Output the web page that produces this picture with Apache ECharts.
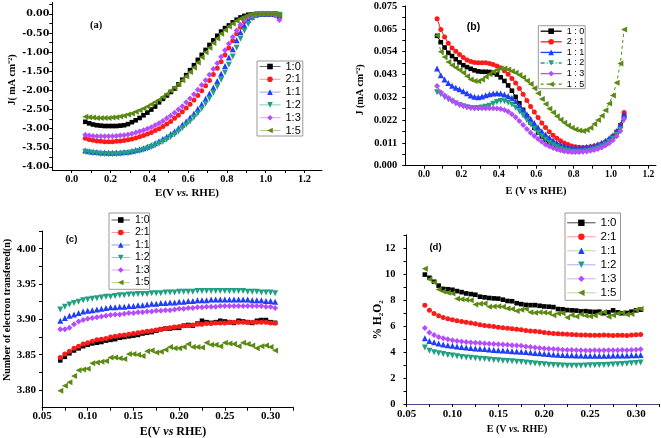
<!DOCTYPE html>
<html><head><meta charset="utf-8">
<script src="https://cdn.jsdelivr.net/npm/echarts@6/dist/echarts.min.js"></script>
<style>html,body{margin:0;padding:0;background:#fff}#c{width:661px;height:438px}</style>
</head><body><div id="c"></div>
<script>
// ---------------- DATA ----------------
const ratioLabels = ['1:0','2:1','1:1','1:2','1:3','1:5'];
const ratioLabelsB = ['1 : 0','2 : 1','1 : 1','1 : 2','1 : 3','1 : 5'];

// potential axis for panels (a) and (b), V vs RHE
const E_lsv = [0.07,0.09,0.11,0.13,0.15,0.17,0.19,0.21,0.23,0.25,0.27,0.29,0.31,0.33,0.35,0.37,0.39,0.41,0.43,0.45,0.47,0.49,0.51,0.53,0.55,0.57,0.59,0.61,0.63,0.65,0.67,0.69,0.71,0.73,0.75,0.77,0.79,0.81,0.83,0.85,0.87,0.89,0.91,0.93,0.95,0.97,0.99,1.01,1.03,1.05,1.07];
// potential axis for panels (c) and (d)
const E_low = [0.070,0.075,0.080,0.085,0.090,0.095,0.100,0.105,0.110,0.115,0.120,0.125,0.130,0.135,0.140,0.145,0.150,0.155,0.160,0.165,0.170,0.175,0.180,0.185,0.190,0.195,0.200,0.205,0.210,0.215,0.220,0.225,0.230,0.235,0.240,0.245,0.250,0.255,0.260,0.265,0.270,0.275,0.280,0.285,0.290,0.295,0.300,0.305];

// (a) disk current density, mA cm^-2
const diskJ_1_0 = [-2.82,-2.86,-2.89,-2.91,-2.92,-2.93,-2.93,-2.93,-2.93,-2.92,-2.91,-2.88,-2.83,-2.78,-2.72,-2.65,-2.58,-2.50,-2.42,-2.31,-2.22,-2.13,-2.04,-1.95,-1.84,-1.72,-1.60,-1.47,-1.34,-1.20,-1.07,-0.94,-0.81,-0.69,-0.57,-0.46,-0.37,-0.30,-0.22,-0.15,-0.09,-0.05,-0.02,-0.01,0.00,0.00,0.00,0.00,0.00,-0.01,-0.05];
const diskJ_2_1 = [-3.25,-3.28,-3.30,-3.32,-3.33,-3.34,-3.34,-3.34,-3.33,-3.32,-3.31,-3.29,-3.27,-3.24,-3.21,-3.18,-3.14,-3.10,-3.05,-3.00,-2.94,-2.88,-2.81,-2.73,-2.65,-2.56,-2.46,-2.36,-2.25,-2.13,-2.01,-1.88,-1.74,-1.58,-1.42,-1.25,-1.07,-0.89,-0.70,-0.52,-0.35,-0.20,-0.10,-0.04,-0.01,0.00,0.00,0.00,0.00,-0.02,-0.08];
const diskJ_1_1 = [-3.57,-3.59,-3.60,-3.61,-3.62,-3.62,-3.63,-3.63,-3.62,-3.62,-3.61,-3.60,-3.58,-3.56,-3.54,-3.51,-3.47,-3.43,-3.38,-3.33,-3.27,-3.21,-3.14,-3.07,-2.99,-2.90,-2.81,-2.71,-2.60,-2.48,-2.36,-2.22,-2.08,-1.92,-1.75,-1.56,-1.36,-1.14,-0.92,-0.69,-0.48,-0.30,-0.16,-0.07,-0.02,0.00,0.00,0.00,0.00,-0.01,-0.04];
const diskJ_1_2 = [-3.60,-3.62,-3.64,-3.65,-3.66,-3.66,-3.67,-3.67,-3.67,-3.66,-3.65,-3.64,-3.62,-3.60,-3.58,-3.55,-3.52,-3.48,-3.44,-3.39,-3.34,-3.28,-3.22,-3.15,-3.07,-2.99,-2.90,-2.81,-2.71,-2.60,-2.48,-2.35,-2.21,-2.06,-1.90,-1.72,-1.53,-1.33,-1.11,-0.88,-0.65,-0.44,-0.26,-0.12,-0.04,-0.01,0.00,0.00,0.00,0.00,-0.02];
const diskJ_1_3 = [-3.16,-3.18,-3.19,-3.20,-3.20,-3.20,-3.20,-3.20,-3.19,-3.18,-3.17,-3.15,-3.13,-3.10,-3.07,-3.04,-3.00,-2.96,-2.91,-2.86,-2.80,-2.73,-2.66,-2.58,-2.50,-2.41,-2.31,-2.21,-2.10,-1.98,-1.86,-1.73,-1.59,-1.44,-1.29,-1.12,-0.95,-0.78,-0.60,-0.43,-0.28,-0.16,-0.08,-0.03,0.00,0.01,0.01,0.01,0.00,-0.04,-0.16];
const diskJ_1_5 = [-2.69,-2.70,-2.71,-2.72,-2.72,-2.72,-2.72,-2.71,-2.70,-2.68,-2.66,-2.63,-2.60,-2.56,-2.52,-2.47,-2.42,-2.36,-2.30,-2.24,-2.17,-2.09,-2.01,-1.92,-1.83,-1.73,-1.63,-1.52,-1.40,-1.27,-1.13,-1.00,-0.88,-0.76,-0.64,-0.52,-0.42,-0.33,-0.25,-0.18,-0.12,-0.07,-0.03,-0.01,0.00,0.00,0.00,0.00,0.00,-0.01,-0.03];

// (b) ring current density, mA cm^-2
const ringJ_1_0 = [0.0610,0.0580,0.0555,0.0530,0.0515,0.0500,0.0485,0.0472,0.0463,0.0455,0.0448,0.0443,0.0441,0.0441,0.0440,0.0436,0.0428,0.0415,0.0398,0.0377,0.0352,0.0323,0.0293,0.0262,0.0232,0.0203,0.0178,0.0156,0.0137,0.0120,0.0106,0.0095,0.0085,0.0078,0.0073,0.0070,0.0069,0.0069,0.0070,0.0072,0.0075,0.0079,0.0084,0.0090,0.0098,0.0108,0.0120,0.0136,0.0158,0.0190,0.0235];
const ringJ_2_1 = [0.0690,0.0640,0.0605,0.0575,0.0553,0.0537,0.0522,0.0508,0.0496,0.0489,0.0485,0.0483,0.0483,0.0483,0.0480,0.0475,0.0468,0.0460,0.0446,0.0430,0.0410,0.0388,0.0363,0.0335,0.0306,0.0278,0.0252,0.0226,0.0201,0.0179,0.0160,0.0143,0.0129,0.0117,0.0107,0.0099,0.0093,0.0089,0.0087,0.0086,0.0087,0.0089,0.0092,0.0097,0.0103,0.0111,0.0122,0.0137,0.0158,0.0190,0.0250];
const ringJ_1_1 = [0.0457,0.0425,0.0405,0.0388,0.0375,0.0366,0.0359,0.0350,0.0340,0.0330,0.0324,0.0322,0.0325,0.0331,0.0336,0.0339,0.0340,0.0339,0.0334,0.0327,0.0318,0.0303,0.0283,0.0263,0.0242,0.0221,0.0200,0.0180,0.0162,0.0146,0.0132,0.0119,0.0108,0.0100,0.0094,0.0089,0.0086,0.0085,0.0085,0.0086,0.0088,0.0091,0.0095,0.0101,0.0108,0.0117,0.0129,0.0143,0.0163,0.0192,0.0240];
const ringJ_1_2 = [0.0345,0.0335,0.0322,0.0311,0.0301,0.0292,0.0285,0.0279,0.0274,0.0271,0.0270,0.0271,0.0273,0.0277,0.0282,0.0291,0.0299,0.0304,0.0303,0.0297,0.0287,0.0272,0.0255,0.0236,0.0214,0.0193,0.0173,0.0155,0.0138,0.0122,0.0108,0.0096,0.0087,0.0079,0.0073,0.0069,0.0066,0.0065,0.0065,0.0066,0.0068,0.0071,0.0076,0.0082,0.0090,0.0100,0.0112,0.0127,0.0145,0.0170,0.0215];
const ringJ_1_3 = [0.0374,0.0345,0.0330,0.0318,0.0306,0.0296,0.0288,0.0281,0.0276,0.0272,0.0270,0.0270,0.0270,0.0270,0.0270,0.0270,0.0269,0.0266,0.0262,0.0254,0.0242,0.0227,0.0210,0.0191,0.0172,0.0155,0.0139,0.0125,0.0112,0.0100,0.0091,0.0083,0.0077,0.0072,0.0068,0.0066,0.0064,0.0064,0.0064,0.0065,0.0067,0.0070,0.0074,0.0079,0.0086,0.0095,0.0106,0.0120,0.0138,0.0163,0.0220];
const ringJ_1_5 = [0.0612,0.0535,0.0510,0.0487,0.0472,0.0460,0.0449,0.0437,0.0420,0.0405,0.0398,0.0397,0.0405,0.0418,0.0430,0.0441,0.0450,0.0456,0.0456,0.0452,0.0444,0.0436,0.0426,0.0414,0.0399,0.0384,0.0364,0.0340,0.0313,0.0290,0.0268,0.0250,0.0232,0.0216,0.0202,0.0189,0.0178,0.0170,0.0165,0.0163,0.0168,0.0178,0.0196,0.0215,0.0235,0.0260,0.0292,0.0330,0.0390,0.0480,0.0640];

// (c) number of electrons transferred
const nElec_1_0 = [3.842,3.847,3.852,3.856,3.859,3.862,3.864,3.866,3.867,3.868,3.870,3.871,3.872,3.874,3.875,3.876,3.877,3.878,3.880,3.881,3.882,3.884,3.886,3.887,3.887,3.888,3.888,3.891,3.892,3.891,3.894,3.898,3.896,3.895,3.896,3.898,3.897,3.896,3.895,3.898,3.897,3.896,3.895,3.898,3.899,3.899,3.896,3.895];
const nElec_2_1 = [3.846,3.851,3.855,3.859,3.862,3.865,3.867,3.869,3.871,3.872,3.873,3.875,3.876,3.877,3.878,3.879,3.880,3.881,3.882,3.883,3.884,3.885,3.886,3.887,3.888,3.889,3.890,3.891,3.891,3.892,3.893,3.893,3.894,3.894,3.895,3.895,3.895,3.896,3.896,3.896,3.896,3.896,3.896,3.896,3.896,3.896,3.895,3.895];
const nElec_1_1 = [3.898,3.902,3.905,3.907,3.909,3.911,3.912,3.913,3.914,3.915,3.916,3.917,3.917,3.918,3.918,3.919,3.919,3.920,3.920,3.921,3.922,3.922,3.923,3.923,3.924,3.924,3.925,3.925,3.926,3.926,3.927,3.927,3.927,3.928,3.928,3.928,3.928,3.928,3.928,3.928,3.928,3.928,3.927,3.927,3.927,3.926,3.926,3.925];
const nElec_1_2 = [3.914,3.918,3.921,3.923,3.925,3.927,3.928,3.929,3.930,3.931,3.932,3.932,3.933,3.934,3.934,3.935,3.935,3.936,3.936,3.936,3.937,3.937,3.937,3.938,3.938,3.938,3.939,3.939,3.939,3.939,3.940,3.940,3.940,3.940,3.940,3.940,3.940,3.940,3.940,3.940,3.940,3.939,3.939,3.939,3.938,3.938,3.938,3.937];
const nElec_1_3 = [3.886,3.886,3.888,3.893,3.897,3.899,3.901,3.902,3.903,3.904,3.905,3.906,3.907,3.907,3.908,3.909,3.909,3.910,3.910,3.911,3.911,3.912,3.912,3.913,3.913,3.914,3.915,3.915,3.916,3.916,3.917,3.917,3.918,3.918,3.918,3.919,3.919,3.919,3.919,3.919,3.919,3.919,3.919,3.919,3.919,3.918,3.918,3.916];
const nElec_1_5 = [3.799,3.806,3.811,3.820,3.828,3.829,3.830,3.838,3.839,3.840,3.841,3.846,3.846,3.845,3.844,3.851,3.851,3.850,3.848,3.855,3.856,3.853,3.854,3.857,3.861,3.859,3.859,3.861,3.865,3.861,3.861,3.860,3.867,3.864,3.864,3.862,3.867,3.866,3.865,3.862,3.867,3.865,3.863,3.859,3.862,3.863,3.861,3.856];

// (d) % H2O2
const h2o2_1_0 = [9.95,9.70,9.40,9.10,8.85,8.82,8.78,8.68,8.60,8.50,8.45,8.40,8.25,8.20,8.15,8.12,8.10,8.02,7.92,7.90,7.75,7.68,7.62,7.60,7.60,7.55,7.50,7.48,7.45,7.30,7.28,7.22,7.20,7.18,7.12,7.14,7.10,7.08,7.10,6.98,7.05,7.20,7.05,6.98,7.00,7.10,7.20,7.25];
const h2o2_2_1 = [7.60,7.20,6.95,6.78,6.65,6.55,6.48,6.40,6.34,6.28,6.22,6.16,6.10,6.04,6.00,5.96,5.90,5.86,5.82,5.78,5.75,5.70,5.66,5.62,5.60,5.55,5.50,5.46,5.42,5.40,5.38,5.36,5.34,5.32,5.30,5.30,5.28,5.28,5.28,5.30,5.28,5.27,5.28,5.28,5.27,5.30,5.33,5.35];
const h2o2_1_1 = [5.05,4.85,4.75,4.66,4.58,4.52,4.48,4.43,4.38,4.34,4.31,4.27,4.24,4.22,4.19,4.16,4.14,4.12,4.09,4.06,4.04,4.02,3.99,3.96,3.93,3.90,3.87,3.84,3.81,3.79,3.77,3.75,3.74,3.73,3.72,3.71,3.71,3.71,3.71,3.71,3.71,3.72,3.72,3.72,3.73,3.74,3.75,3.76];
const h2o2_1_2 = [4.35,4.10,3.98,3.90,3.84,3.77,3.72,3.67,3.62,3.58,3.55,3.51,3.48,3.45,3.42,3.39,3.36,3.33,3.30,3.28,3.25,3.22,3.20,3.16,3.12,3.08,3.05,3.02,3.00,2.98,2.96,2.95,2.94,2.94,2.95,2.96,2.97,2.98,2.99,3.00,3.02,3.04,3.06,3.08,3.10,3.13,3.16,3.20];
const h2o2_1_3 = [5.85,5.50,5.30,5.15,5.05,4.97,4.90,4.84,4.80,4.76,4.73,4.70,4.68,4.66,4.64,4.61,4.59,4.57,4.55,4.52,4.49,4.47,4.43,4.38,4.34,4.30,4.27,4.24,4.22,4.20,4.18,4.16,4.15,4.14,4.13,4.12,4.12,4.13,4.12,4.13,4.14,4.13,4.14,4.15,4.14,4.16,4.18,4.20];
const h2o2_1_5 = [10.40,9.60,9.35,8.80,8.65,8.55,8.50,8.10,8.05,8.02,7.98,7.65,7.70,7.72,7.48,7.50,7.52,7.47,7.35,7.30,7.15,7.25,7.30,7.05,7.02,7.05,7.04,7.00,6.82,6.95,6.98,6.65,6.85,6.72,6.90,6.78,6.75,6.80,6.95,7.08,6.70,6.82,6.95,7.02,6.88,6.92,7.25,7.30];

// tick labels
const tickA_x = [0,0.2,0.4,0.6,0.8,1.0,1.2];
const tickA_y = [-4,-3.5,-3,-2.5,-2,-1.5,-1,-0.5,0];
const tickB_x = [0,0.2,0.4,0.6,0.8,1.0,1.2];
const tickB_yLabels = ['0.000','0.011','0.022','0.032','0.043','0.054','0.065','0.075'];
const tickC_x = [0.05,0.10,0.15,0.20,0.25,0.30];
const tickC_y = [3.80,3.85,3.90,3.95,4.00];
const tickD_x = [0.05,0.10,0.15,0.20,0.25,0.30];
const tickD_y = [0,2,4,6,8,10,12];

// ---------------- STYLE ----------------
const COLORS = ['#000000','#ff1a1a','#1f3dff','#22a083','#b54dff','#5a8a12'];
const SYMBOLS = ['rect','circle','triangle','triangle','diamond','triangle'];
const ROTATE = [0,0,0,180,0,90];
const SIZE = [4.6,5,6,6,6,6];

function withMinor(majors, extra) {
  const out = majors.slice();
  for (let i = 0; i < majors.length - 1; i++) out.push((majors[i] + majors[i+1]) / 2);
  return out.concat(extra || []);
}

function axis(gridIndex, min, max, labelVals, tickVals, fmt, lab, lineColor) {
  return {
    type: 'value', gridIndex, min, max,
    axisLine: {show: true, onZero: false, lineStyle: {color: lineColor || '#000', width: 1}},
    axisTick: {show: true, inside: false, length: 3, customValues: tickVals, lineStyle: {color: '#000', width: 1}},
    axisLabel: Object.assign({customValues: labelVals, formatter: fmt, color: '#000', fontWeight: 'bold', fontFamily: 'Liberation Serif'}, lab),
    splitLine: {show: false}
  };
}

const BYSTEP = 0.075 / 7;
const bYTicks = [];
for (let k = 0; k <= 7; k++) bYTicks.push(k * BYSTEP);

const xAxes = [
  axis(0, -0.1, 1.29, tickA_x, withMinor(tickA_x, [1.3 > 1.29 ? 1.2 : 1.3]), v => v.toFixed(1), {fontSize: 10.5, margin: 4}),
  axis(1, -0.1, 1.24, tickB_x, withMinor(tickB_x), v => v.toFixed(1), {fontSize: 9.5, margin: 4}),
  axis(2, 0.05, 0.325, tickC_x, withMinor(tickC_x, [0.325]), v => v.toFixed(2), {fontSize: 11, margin: 3}),
  axis(3, 0.05, 0.325, tickD_x, withMinor(tickD_x, [0.325]), v => v.toFixed(2), {fontSize: 11, margin: 5}, '#4a4a8a')
];
const yAxes = [
  axis(0, -4.08, 0.3, tickA_y, withMinor(tickA_y, [0.25]), v => v.toFixed(2), {fontSize: 9.5, margin: 3, fontFamily: 'DejaVu Serif'}),
  axis(1, 0, 0.075, bYTicks, withMinor(bYTicks), v => tickB_yLabels[Math.round(v / BYSTEP)], {fontSize: 10.5, margin: 8}),
  axis(2, 3.775, 4.025, tickC_y, withMinor(tickC_y, [4.025]), v => v.toFixed(2), {fontSize: 11, margin: 6}),
  axis(3, 0, 13, tickD_y, withMinor(tickD_y, [13]), v => String(Math.round(v)), {fontSize: 10.5, margin: 11})
];

const grids = [
  {left: 52.3, top: 2.5, width: 269.7, height: 167.5},
  {left: 405.3, top: 6, width: 250.6, height: 159.7},
  {left: 42, top: 231, width: 251.4, height: 176.7},
  {left: 406.5, top: 234.9, width: 252.5, height: 169.1}
].map(g => Object.assign({containLabel: false, outerBoundsMode: 'none', show: false}, g));

const panels = [
  {key: 'a', xs: E_lsv, ys: [diskJ_1_0, diskJ_2_1, diskJ_1_1, diskJ_1_2, diskJ_1_3, diskJ_1_5], labels: ratioLabels},
  {key: 'b', xs: E_lsv, ys: [ringJ_1_0, ringJ_2_1, ringJ_1_1, ringJ_1_2, ringJ_1_3, ringJ_1_5], labels: ratioLabelsB},
  {key: 'c', xs: E_low, ys: [nElec_1_0, nElec_2_1, nElec_1_1, nElec_1_2, nElec_1_3, nElec_1_5], labels: ratioLabels},
  {key: 'd', xs: E_low, ys: [h2o2_1_0, h2o2_2_1, h2o2_1_1, h2o2_1_2, h2o2_1_3, h2o2_1_5], labels: ratioLabels}
];

const B_LINE_TYPES = ['solid','solid','solid',[4,2,1,2],'solid',[3,3]];

const series = [];
panels.forEach((p, pi) => {
  p.ys.forEach((ys, k) => {
    series.push({
      type: 'line', name: p.key + '|' + p.labels[k],
      xAxisIndex: pi, yAxisIndex: pi,
      data: p.xs.map((x, i) => [x, ys[i]]),
      symbol: SYMBOLS[k], symbolRotate: ROTATE[k], symbolSize: SIZE[k],
      showSymbol: true, showAllSymbol: true,
      itemStyle: {color: COLORS[k]},
      lineStyle: pi === 1 ? {color: COLORS[k], width: 1, type: B_LINE_TYPES[k]} : {width: 0, opacity: 0},
      silent: true, animation: false
    });
  });
});

const LEG_LINE = {
  a: ['#6e6e6e','#ff9a9a','#9aa0ff','#7fcfb8','#d9a6ff','#b3c98c'],
  b: COLORS,
  c: ['#555555','#ff9a9a','#8f9bff','#7fd6c0','#d9a6ff','#c2d49a'],
  d: ['#444444','#ff9a9a','#a8e0a0','#a0b0ff','#dca8ff','#c2d49a']
};
const LEG_BOX = {
  a: {left: 257, top: 61, padding: [0,2,0,2], itemWidth: 21, itemHeight: 7, itemGap: 1.8, fontSize: 11, lineHeight: 9},
  b: {left: 538.3, top: 25.7, padding: [1,1,0,1.7], itemWidth: 21, itemHeight: 7, itemGap: 1.6, fontSize: 9, lineHeight: 8},
  c: {left: 109, top: 213, padding: [1.5,0,1.3,2], itemWidth: 18.5, itemHeight: 7, itemGap: 1.5, fontSize: 10.5, lineHeight: 9},
  d: {left: 565, top: 213, padding: [3.8,4,1.5,1.7], itemWidth: 28.3, itemHeight: 8, itemGap: 2, fontSize: 11.5, lineHeight: 11}
};
const legends = panels.map(p => {
  const b = LEG_BOX[p.key];
  return {
    orient: 'vertical', left: b.left, top: b.top, padding: b.padding,
    itemWidth: b.itemWidth, itemHeight: b.itemHeight, itemGap: b.itemGap,
    backgroundColor: '#fff', borderColor: '#999', borderWidth: 1, borderRadius: 0,
    selectedMode: false,
    textStyle: {fontFamily: 'Liberation Sans', fontSize: b.fontSize, lineHeight: b.lineHeight, color: '#000'},
    formatter: n => n.split('|')[1],
    data: p.labels.map((l, k) => ({
      name: p.key + '|' + l,
      lineStyle: {color: LEG_LINE[p.key][k], width: p.key === 'b' ? 1.3 : 1, opacity: 1,
                  type: p.key === 'b' ? B_LINE_TYPES[k] : 'solid'}
    }))
  };
});

function title(x, y, rot, text, size, rich) {
  const el = {type: 'text', x, y, rotation: rot ? Math.PI / 2 : 0, silent: true, z: 10,
    style: {text, align: 'center', verticalAlign: 'middle', fill: '#000',
            font: 'bold ' + size + 'px "Liberation Serif"'}};
  if (rich) el.style.rich = rich;
  return el;
}
function vsRich(size) {
  return {
    b: {fontFamily: 'Liberation Serif', fontWeight: 'bold', fontSize: size, fill: '#000'},
    i: {fontFamily: 'Liberation Serif', fontWeight: 'bold', fontStyle: 'italic', fontSize: size, fill: '#000'}
  };
}
const graphics = [
  title(12, 80, true, 'J( mA cm⁻²)', 10),
  title(187, 193.5, false, '{b|E(V }{i|vs.}{b| RHE)}', 11, vsRich(11)),
  title(360, 90, true, 'J (mA cm⁻²)', 10),
  title(536, 191, false, '{b|E (V }{i|vs}{b| RHE)}', 10.5, vsRich(10.5)),
  title(7, 310, true, 'Number of electron transfered(n)', 10),
  title(173, 432, false, '{b|E(V }{i|vs}{b| RHE)}', 12, vsRich(12)),
  title(378, 320, true, '% H₂O₂', 11.5),
  title(517, 429, false, '{b|E (V }{i|vs.}{b| RHE)}', 10, vsRich(10)),
  title(96, 25, false, '(a)', 10.5),
  {type: 'text', x: 473.5, y: 27, silent: true, z: 10, style: {text: '(b)', align: 'center', verticalAlign: 'middle', fill: '#000', font: 'bold 10.5px "Liberation Sans"'}},
  {type: 'text', x: 71.5, y: 239.5, silent: true, z: 10, style: {text: '(c)', align: 'center', verticalAlign: 'middle', fill: '#000', font: 'bold 9.5px "Liberation Sans"'}},
  {type: 'text', x: 435.5, y: 247.5, silent: true, z: 10, style: {text: '(d)', align: 'center', verticalAlign: 'middle', fill: '#000', font: 'bold 9.5px "Liberation Sans"'}}
];

const chart = echarts.init(document.getElementById('c'), null, {renderer: 'canvas', width: 661, height: 438});
chart.setOption({
  animation: false,
  backgroundColor: '#fff',
  grid: grids,
  xAxis: xAxes,
  yAxis: yAxes,
  legend: legends,
  series: series,
  graphic: graphics
});
</script></body></html>
